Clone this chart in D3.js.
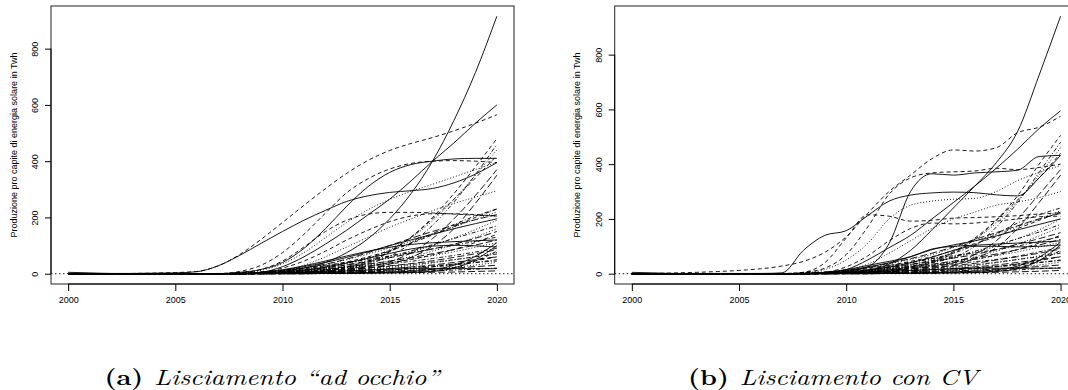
<!DOCTYPE html>
<html>
<head>
<meta charset="utf-8">
<script src="https://cdn.jsdelivr.net/npm/d3@7"></script>
<style>
  body { margin: 0; background: #fff; }
  svg { display: block; }
</style>
</head>
<body>
<svg id="chart" width="1068" height="390"></svg>
<script>
// Years on the x axis (one value per year for every country curve)
const years = [2000, 2001, 2002, 2003, 2004, 2005, 2006, 2007, 2008, 2009, 2010,
               2011, 2012, 2013, 2014, 2015, 2016, 2017, 2018, 2019, 2020];
const xTicks = [2000, 2005, 2010, 2015, 2020];
const yTicks = [0, 200, 400, 600, 800];
const yTitle = "Produzione pro capite di energia solare in Twh";
const captionTags = ["(a)", "(b)"];
const captionTexts = ["Lisciamento \u201Cad occhio\u201D", "Lisciamento con CV"];

// Smoothed per-capita solar production, "by eye" smoothing (one row per country)
const seriesEye = [
  [0,0,0,0,0,0,0,0,0,2,8,20,40,75,125,195,285,400,545,715,915],
  [0,0,0,1,2,4,8,28,68,122,182,243,302,357,403,438,463,484,508,535,565],
  [0,0,0,0,0,0,0,0,3,12,35,75,128,182,228,264,293,318,344,370,395],
  [0,0,0,0,0,0,0,0,0,2,5,10,16,24,36,62,108,172,255,352,460],
  [0,0,0,0,0,0,0,0,0,1,3,6,10,16,25,42,75,125,195,278,370],
  [5,3,1,1,2,3,7,28,65,108,150,190,225,257,277,289,295,303,323,354,395],
  [0,0,0,0,0,0,0,0,8,30,75,140,215,288,338,372,392,400,402,400,395],
  [0,0,0,0,0,0,0,0,1,4,10,30,60,95,130,165,195,224,250,272,295],
  [0,0,0,0,0,0,0,0,1,3,7,14,24,38,56,80,110,143,175,205,230],
  [0,0,0,0,0,0,0,0,0,1,2,4,7,12,20,34,58,98,160,250,350],
  [0,0,0,0,0,0,0,0,5,15,40,90,160,240,310,360,388,400,408,410,410],
  [0,0,0,0,0,0,0,0,3,15,45,95,150,190,212,218,218,216,212,208,205],
  [0,0,0,0,0,0,0,0,0,2,6,12,22,36,55,85,128,188,265,350,440],
  [0,0,0,0,0,0,0,0,1,3,7,13,21,32,46,62,81,103,125,148,170],
  [0,0,0,0,0,0,0,0,1,4,10,20,34,52,75,100,126,150,172,192,210],
  [0,0,0,0,0,0,0,0,1,5,25,60,105,155,210,265,330,400,465,535,600],
  [0,0,0,0,0,0,0,0,1,5,20,45,80,120,155,185,205,213,213,210,205],
  [0,0,0,0,0,0,0,0,1,4,10,20,33,50,70,92,115,140,166,193,220],
  [0,0,0,0,0,0,0,1,3,7,13,21,30,40,51,63,75,88,101,115,130],
  [0,0,0,0,0,0,0,0,1,3,7,13,21,31,43,57,72,88,105,126,150],
  [0,0,0,0,0,0,0,0,1,4,12,25,40,58,78,100,120,140,160,178,195],
  [0,0,0,0,0,0,0,0,0,1,3,6,12,22,40,78,130,200,285,380,480],
  [0,0,0,0,0,0,0,0,0,2,5,10,17,27,40,56,76,100,127,157,190],
  [0,0,0,0,0,0,0,0,1,2,5,9,14,20,27,35,44,54,65,77,90],
  [0,0,0,0,0,0,0,0,1,3,6,11,17,25,34,45,57,71,86,102,120],
  [0,0,0,0,0,0,0,0,1,5,14,28,45,63,80,94,104,110,114,117,120],
  [0,0,0,0,0,0,0,0,0,1,3,7,14,25,45,80,130,195,265,340,420],
  [0,0,0,0,0,0,0,0,0,1,4,8,14,22,32,45,61,80,103,130,160],
  [0,0,0,0,0,0,0,0,0,1,3,6,10,15,20,26,33,41,50,60,70],
  [0,0,0,0,0,0,0,0,0,1,3,6,10,15,21,28,36,46,58,71,85],
  [0,0,0,0,0,0,0,0,0,2,6,13,24,38,55,72,88,98,101,99,95],
  [0,0,0,0,0,0,0,0,1,4,9,17,28,42,60,82,108,138,168,200,230],
  [0,0,0,0,0,0,0,0,1,2,5,9,15,22,30,40,51,64,78,94,110],
  [0,0,0,0,0,0,0,0,0,1,2,4,7,10,14,18,23,28,34,40,45],
  [0,0,0,0,0,0,0,0,0,1,2,4,6,9,13,18,24,31,40,50,60],
  [0,0,0,0,0,0,0,0,0,0,1,1,2,3,4,6,9,15,30,62,110],
  [0,0,0,0,0,0,0,0,0,1,3,6,11,18,27,38,51,67,86,111,140],
  [0,0,0,0,0,0,0,0,0,1,2,4,7,11,16,22,29,38,49,61,75],
  [0,0,0,0,0,0,0,0,0,0,1,2,4,6,9,13,18,24,31,40,50],
  [0,0,0,0,0,0,0,0,0,0,1,2,3,5,7,9,12,16,20,25,30],
  [0,0,0,0,0,0,0,0,0,1,2,4,7,10,13,16,18,18,18,18,18],
  [0,0,0,0,0,0,0,0,0,0,1,2,4,6,9,13,18,25,34,46,60],
  [0,0,0,0,0,0,0,0,0,0,1,2,3,5,7,10,13,17,23,31,40],
  [0,0,0,0,0,0,0,0,0,0,0,1,2,3,4,6,8,10,13,16,20],
  [0,0,0,0,0,0,0,0,0,0,0,0,1,1,2,3,4,5,6,8,10],
  [0,0,0,0,0,0,0,0,0,0,0,0,1,1,2,3,4,8,20,50,100],
  [0,0,0,0,0,0,0,0,0,0,0,0,1,2,3,4,6,10,22,45,80]
];

// Same countries, smoothing parameter chosen by cross-validation
const seriesCV = [
  [0,0,0,0,0,0,0,0,0,1,4,12,35,85,160,240,320,405,520,725,940],
  [0,1,3,5,8,12,18,28,45,78,135,220,300,360,420,452,448,460,515,535,575],
  [0,0,0,0,0,0,0,0,3,15,50,110,200,250,265,272,275,300,340,370,395],
  [0,0,0,0,0,0,0,0,0,2,5,10,18,28,40,60,100,170,260,370,480],
  [0,0,0,0,0,0,0,0,0,1,3,7,12,18,26,40,70,120,200,290,380],
  [5,3,1,1,1,1,1,3,85,140,157,212,265,287,295,298,296,288,284,350,432],
  [0,0,0,0,0,0,0,0,5,20,70,170,290,350,368,372,375,385,380,388,400],
  [0,0,0,0,0,0,0,0,1,4,12,35,75,120,165,200,225,250,262,278,300],
  [0,0,0,0,0,0,0,0,1,3,7,14,26,40,55,75,105,145,185,215,240],
  [0,0,0,0,0,0,0,0,0,1,2,4,7,12,20,32,55,95,165,260,360],
  [0,0,0,0,0,0,0,0,0,2,8,25,110,300,365,360,368,372,378,428,432],
  [0,0,0,0,0,0,0,0,5,40,130,215,210,192,195,203,205,208,212,218,222],
  [0,0,0,0,0,0,0,0,0,2,6,12,20,32,50,80,125,185,265,360,460],
  [0,0,0,0,0,0,0,0,1,3,7,13,22,34,48,62,82,105,128,152,180],
  [0,0,0,0,0,0,0,0,1,4,10,22,38,55,75,98,125,150,175,200,220],
  [0,0,0,0,0,0,0,0,0,3,15,50,95,140,200,260,320,385,455,530,595],
  [0,0,0,0,0,0,0,0,1,5,25,65,120,165,185,182,185,192,200,208,210],
  [0,0,0,0,0,0,0,0,1,4,10,22,36,52,70,95,120,145,172,200,230],
  [0,0,0,0,0,0,0,1,3,7,13,21,30,42,55,66,76,88,101,118,135],
  [0,0,0,0,0,0,0,0,1,3,7,14,24,34,45,57,70,88,108,128,150],
  [0,0,0,0,0,0,0,0,1,4,12,25,40,62,88,105,120,138,160,180,200],
  [0,0,0,0,0,0,0,0,0,1,3,6,12,22,40,75,125,195,285,400,505],
  [0,0,0,0,0,0,0,0,0,2,5,10,18,28,42,58,78,100,128,160,200],
  [0,0,0,0,0,0,0,0,1,2,5,9,14,20,28,36,44,52,64,80,95],
  [0,0,0,0,0,0,0,0,1,3,6,11,18,26,35,46,58,72,88,105,125],
  [0,0,0,0,0,0,0,0,1,5,15,30,45,62,90,100,104,108,112,115,120],
  [0,0,0,0,0,0,0,0,0,1,3,7,14,25,45,80,130,195,270,350,440],
  [0,0,0,0,0,0,0,0,0,1,4,8,14,22,32,45,62,82,108,138,170],
  [0,0,0,0,0,0,0,0,0,1,3,6,10,15,20,26,33,42,52,62,75],
  [0,0,0,0,0,0,0,0,0,1,3,7,12,18,24,30,38,50,62,75,90],
  [0,0,0,0,0,0,0,0,0,2,6,13,24,40,60,85,100,100,98,100,105],
  [0,0,0,0,0,0,0,0,1,4,9,18,30,45,62,85,110,135,165,195,225],
  [0,0,0,0,0,0,0,0,1,2,5,9,16,24,32,42,54,66,80,97,115],
  [0,0,0,0,0,0,0,0,0,1,2,5,8,11,15,19,22,27,34,41,48],
  [0,0,0,0,0,0,0,0,0,1,2,4,7,10,14,19,25,32,41,51,62],
  [0,0,0,0,0,0,0,0,0,0,1,1,2,3,4,6,9,14,28,60,115],
  [0,0,0,0,0,0,0,0,0,1,3,7,12,20,30,40,52,68,88,112,140],
  [0,0,0,0,0,0,0,0,0,1,2,5,8,12,17,23,30,40,52,65,80],
  [0,0,0,0,0,0,0,0,0,0,1,2,4,7,10,14,19,25,32,41,50],
  [0,0,0,0,0,0,0,0,0,0,1,2,3,5,7,10,13,17,21,26,32],
  [0,0,0,0,0,0,0,0,0,1,3,6,9,12,15,18,20,20,20,20,20],
  [0,0,0,0,0,0,0,0,0,0,1,2,4,7,10,14,19,26,36,48,62],
  [0,0,0,0,0,0,0,0,0,0,1,2,3,5,8,11,14,18,24,32,42],
  [0,0,0,0,0,0,0,0,0,0,0,1,2,3,5,7,9,11,14,18,22],
  [0,0,0,0,0,0,0,0,0,0,0,0,1,1,2,3,4,5,7,9,12],
  [0,0,0,0,0,0,0,0,0,0,0,0,1,1,2,3,4,8,18,48,105],
  [0,0,0,0,0,0,0,0,0,0,0,0,1,2,3,4,6,10,22,48,85]
];

// matplot line-type cycle: solid, dashed, dotted, dot-dash, long dash
const dashCycle = [null, "4,3", "1,2", "1,2,4,2", "7,3"];

const svg = d3.select("#chart");
const FONT = "'Liberation Sans', Arial, Helvetica, sans-serif";

const panelTop = 6, panelBottom = 284;

function drawPanel(series, ox, tag, text) {
  const g = svg.append("g");
  const left = ox + 51, right = ox + 514;

  const x = d3.scaleLinear()
    .domain([years[0] - 0.04 * (years[years.length - 1] - years[0]),
             years[years.length - 1] + 0.04 * (years[years.length - 1] - years[0])])
    .range([left, right]);

  const all = series.flat();
  const lo = d3.min(all), hi = d3.max(all);
  const pad = 0.04 * (hi - lo);
  const y = d3.scaleLinear().domain([lo - pad, hi + pad]).range([panelBottom, panelTop]);

  // clip curves to the plotting region
  const clipId = "clip" + Math.round(ox);
  svg.append("clipPath").attr("id", clipId)
    .append("rect").attr("x", left).attr("y", panelTop)
    .attr("width", right - left).attr("height", panelBottom - panelTop);

  const line = d3.line()
    .x((d, i) => x(years[i]))
    .y(d => y(d))
    .curve(d3.curveMonotoneX);

  const lines = g.append("g").attr("clip-path", `url(#${clipId})`);
  series.forEach((s, i) => {
    const dash = dashCycle[i % dashCycle.length];
    lines.append("path")
      .attr("d", line(s))
      .attr("fill", "none")
      .attr("stroke", "#000")
      .attr("stroke-width", 0.9)
      .attr("stroke-dasharray", dash)
      .attr("stroke-linejoin", "round");
  });

  // horizontal reference at zero
  lines.append("line")
    .attr("x1", left).attr("x2", right)
    .attr("y1", y(0)).attr("y2", y(0))
    .attr("stroke", "#000").attr("stroke-width", 0.9)
    .attr("stroke-dasharray", "1.5,2.5");

  // plot box
  g.append("rect")
    .attr("x", left).attr("y", panelTop)
    .attr("width", right - left).attr("height", panelBottom - panelTop)
    .attr("fill", "none").attr("stroke", "#222").attr("stroke-width", 1);

  // x axis
  const xa = g.append("g")
    .attr("transform", `translate(0,${panelBottom})`)
    .call(d3.axisBottom(x).tickValues(xTicks).tickFormat(d3.format("d"))
      .tickSize(7).tickPadding(5.5));
  xa.select(".domain").remove();
  xa.append("line")
    .attr("x1", x(xTicks[0])).attr("x2", x(xTicks[xTicks.length - 1]))
    .attr("stroke", "#000").attr("stroke-width", 1);
  xa.selectAll("text").attr("font-family", FONT).attr("font-size", 9).attr("fill", "#000");
  xa.selectAll(".tick line").attr("stroke", "#000");

  // y axis with labels parallel to the axis
  const ya = g.append("g")
    .attr("transform", `translate(${left},0)`)
    .call(d3.axisLeft(y).tickValues(yTicks).tickSize(6));
  ya.select(".domain").remove();
  ya.append("line")
    .attr("y1", y(yTicks[0])).attr("y2", y(yTicks[yTicks.length - 1]))
    .attr("stroke", "#000").attr("stroke-width", 1);
  ya.selectAll(".tick line").attr("stroke", "#000");
  ya.selectAll("text")
    .attr("x", null).attr("dy", null)
    .attr("transform", "translate(-13,0) rotate(-90)")
    .attr("text-anchor", "middle")
    .attr("font-family", FONT).attr("font-size", 9).attr("fill", "#000");

  g.append("text")
    .attr("transform", `translate(${ox + 16.5},${(panelTop + panelBottom) / 2}) rotate(-90)`)
    .attr("text-anchor", "middle")
    .attr("font-family", FONT).attr("font-size", 9).attr("fill", "#000")
    .text(yTitle);

  return { x, y };
}

const panels = [
  { series: seriesEye, ox: 0, cx: 272, width: 335 },
  { series: seriesCV, ox: 563.7, cx: 833, width: 290 }
];

panels.forEach((p, k) => {
  drawPanel(p.series, p.ox);
  const cap = svg.append("text")
    .attr("x", p.cx).attr("y", 385)
    .attr("text-anchor", "middle")
    .attr("font-family", "'Latin Modern Roman', 'CMU Serif', 'Liberation Serif', serif")
    .attr("font-size", 22).attr("fill", "#000");
  cap.append("tspan").attr("font-weight", "bold").text(captionTags[k]);
  cap.append("tspan").attr("font-style", "italic").attr("dx", 9).text(captionTexts[k]);
  cap.attr("textLength", p.width).attr("lengthAdjust", "spacingAndGlyphs");
});
</script>
</body>
</html>
